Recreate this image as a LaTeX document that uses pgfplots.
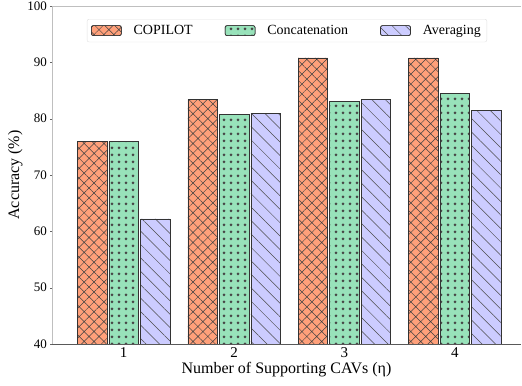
\documentclass[border=0pt]{standalone}
\usepackage{pgfplots}
\pgfplotsset{compat=1.18}
\usepackage{fontspec}
\setmainfont{Liberation Serif}
\usetikzlibrary{patterns.meta}
\definecolor{cop}{RGB}{255,160,122}
\definecolor{con}{RGB}{152,226,186}
\definecolor{avg}{RGB}{204,204,255}
\begin{document}
\begin{tikzpicture}
\begin{axis}[
  scale only axis,
  width=469pt, height=338pt,
  xmin=0.35, xmax=4.6,
  ymin=40, ymax=100,
  ybar, bar width=29.5pt,
  bar shift auto,
  xtick={1,2,3,4},
  ytick={40,50,...,100},
  axis lines=left,
  axis line style={-},
  x axis line style={draw=black!65},
  y axis line style={draw=black!25},
  tick style={draw=black!60},
  major tick length=3pt,
  xtick pos=bottom, ytick pos=left,
  /pgf/number format/assume math mode=true,
  yticklabel style={font=\fontsize{13}{13}\selectfont},
  xticklabel style={font=\fontsize{15}{15}\selectfont, inner ysep=2pt},
  xlabel={Number of Supporting CAVs (η)},
  ylabel={Accuracy (\%)},
  label style={font=\fontsize{16}{16}\selectfont},
  xlabel style={yshift=1pt},
  ylabel style={yshift=-2pt},
  legend columns=3,
  legend style={at={(0.501,0.9615)}, anchor=north, draw=black!12, rounded corners=2pt,
    font=\fontsize{14}{14}\selectfont,
    /tikz/every odd column/.append style={column sep=10pt},
    /tikz/every even column/.append style={column sep=30pt},
    inner xsep=4pt, inner ysep=4pt},
  legend image code/.code={\draw[#1] (0pt,-5pt) rectangle (30pt,5pt);},
  legend cell align=left,
]
\addplot[draw=black!80, line width=0.6pt, fill=cop, postaction={pattern={Hatch[angle=45,distance=7pt,line width=0.5pt]}, pattern color=black!75}]
  coordinates {(1,76.0) (2,83.4) (3,90.8) (4,90.8)};
\addplot[draw=black!80, line width=0.6pt, fill=con, postaction={pattern={Dots[distance=7pt,radius=1.5pt]}, pattern color=black!72}]
  coordinates {(1,76.0) (2,80.8) (3,83.1) (4,84.5)};
\addplot[draw=black!80, line width=0.6pt, fill=avg, postaction={pattern={Lines[angle=-45,distance=9.5pt,line width=0.5pt]}, pattern color=black!70}]
  coordinates {(1,62.2) (2,80.95) (3,83.4) (4,81.4)};
\legend{COPILOT, Concatenation, Averaging}
\draw[black!25] (rel axis cs:0,1) -- (rel axis cs:1,1);
\coordinate (ll) at (rel axis cs:0,0);
\coordinate (ur) at (rel axis cs:1,1);
\end{axis}
\pgfresetboundingbox
\path ([xshift=-52pt,yshift=-42pt]ll) rectangle ([xshift=1pt,yshift=6pt]ur);
\end{tikzpicture}
\end{document}
